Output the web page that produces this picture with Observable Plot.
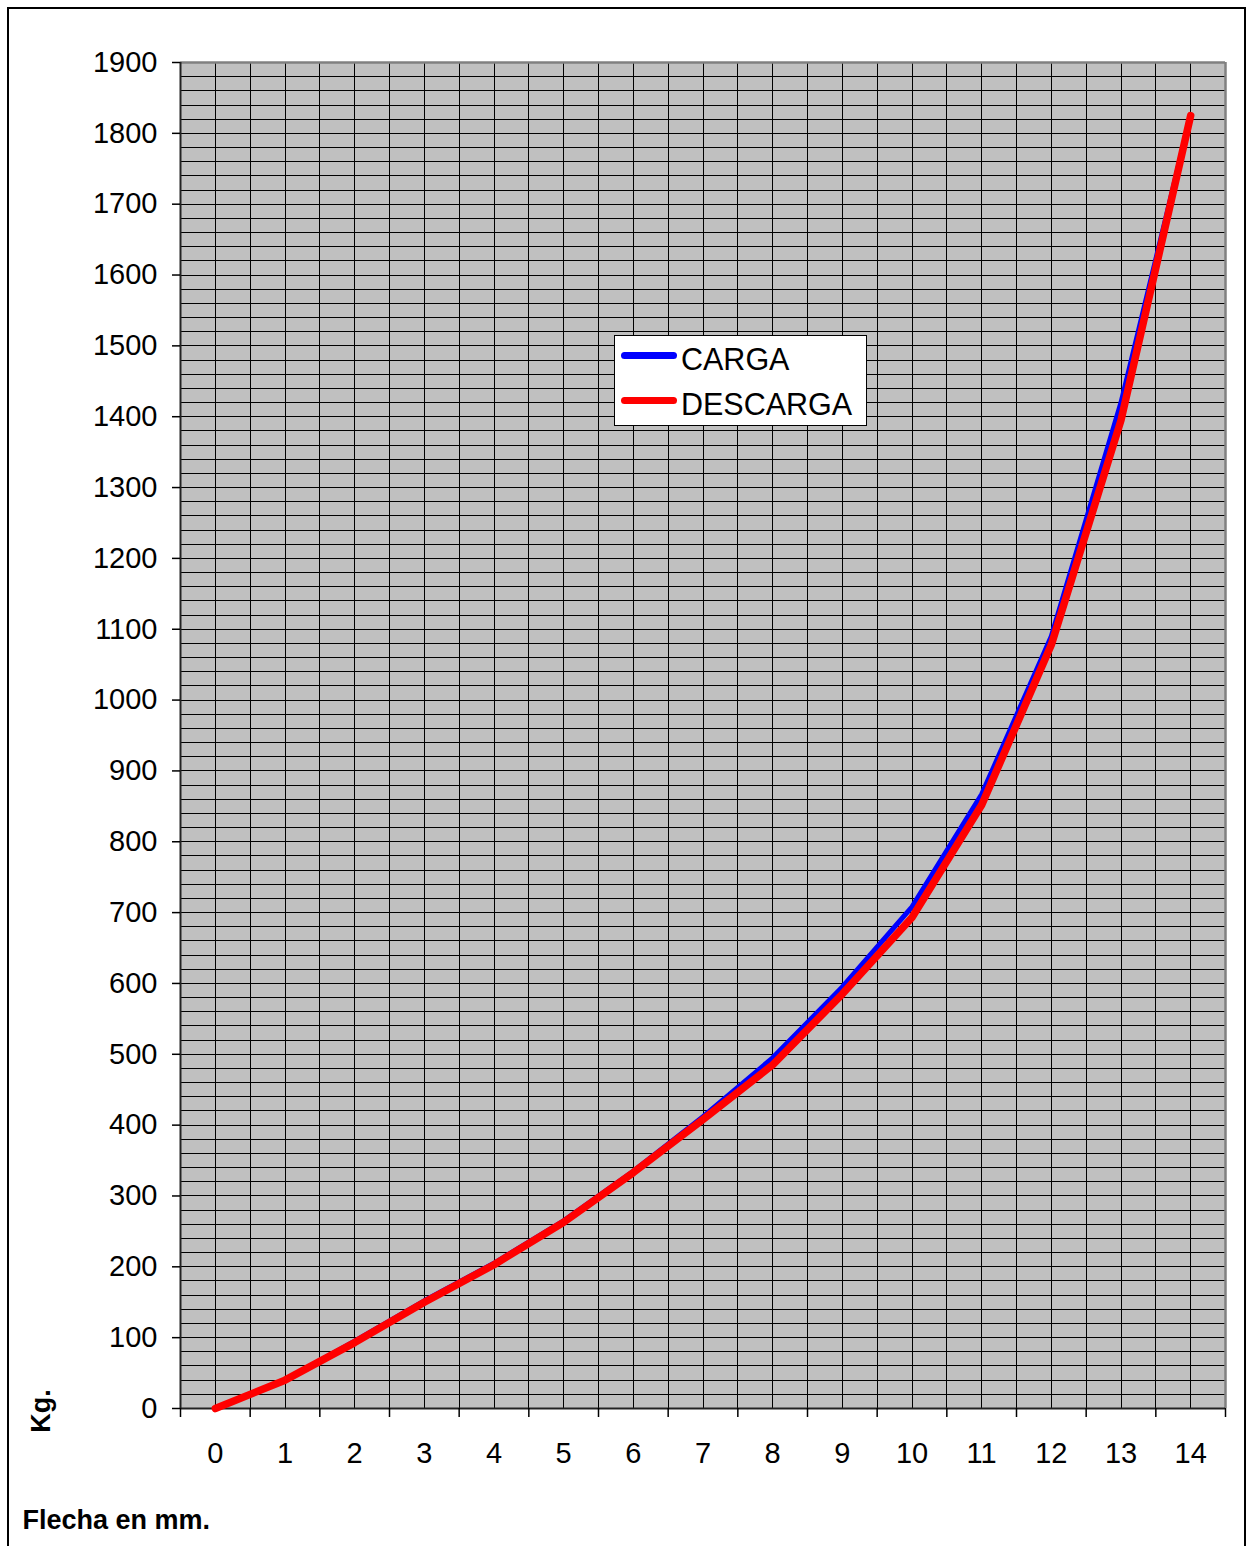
<!DOCTYPE html>
<html>
<head>
<meta charset="utf-8">
<script src="https://cdn.jsdelivr.net/npm/d3@7"></script>
<script src="https://cdn.jsdelivr.net/npm/@observablehq/plot@0.6"></script>
<style>
  html, body { margin: 0; padding: 0; background: #fff; overflow: hidden; }
  #page { position: relative; width: 1248px; height: 1546px; font-family: "Liberation Sans", Arial, sans-serif; }
  #border { position: absolute; left: 7px; top: 7px; width: 1239px; height: 1600px; border: 2px solid #000; box-sizing: border-box; }
  #chart { position: absolute; left: 0; top: 0; }
  #legend { position: absolute; left: 614px; top: 335px; width: 253px; height: 91px; box-sizing: border-box; border: 1px solid #000; background: #fff; }
  .sw { position: absolute; left: 6px; width: 56px; height: 7px; border-radius: 4px; }
  .lt { position: absolute; left: 66px; font-size: 30.5px; line-height: 1; color: #000; white-space: nowrap; }
</style>
</head>
<body>
<div id="page">
  <div id="border"></div>
  <div id="chart"></div>
  <div id="legend"></div>
</div>
<script>
// ---- data ----
const flecha = [0, 1, 2, 3, 4, 5, 6, 7, 8, 9, 10, 11, 12, 13, 14];
const carga = [0, 40, 95, 152, 205, 265, 335, 412, 495, 595, 708, 867, 1090, 1420, 1825];
const descarga = [0, 40, 93, 150, 203, 263, 333, 408, 485, 585, 693, 852, 1078, 1395, 1825];
const yTicks = [0, 100, 200, 300, 400, 500, 600, 700, 800, 900, 1000, 1100, 1200, 1300, 1400, 1500, 1600, 1700, 1800, 1900];
const xTickLabels = ["0", "1", "2", "3", "4", "5", "6", "7", "8", "9", "10", "11", "12", "13", "14"];
const seriesNames = ["CARGA", "DESCARGA"];
const seriesColors = ["#0000ff", "#ff0000"];
const yLabel = "Kg.";
const xLabel = "Flecha en mm.";

// derived tables
const cargaData = flecha.map((f, i) => ({flecha: f, kg: carga[i]}));
const descargaData = flecha.map((f, i) => ({flecha: f, kg: descarga[i]}));
const yGrid = d3.range(0, 1901, 20);
const xEdges = d3.range(0, 16).map(i => i - 0.5);
const xGrid = d3.range(0, 31).map(i => i / 2 - 0.5);

const plot = Plot.plot({
  width: 1248,
  height: 1546,
  marginLeft: 180,
  marginRight: 23,
  marginTop: 62,
  marginBottom: 138,
  style: {fontFamily: "'Liberation Sans', Arial, sans-serif", background: "transparent", color: "#000"},
  x: {type: "linear", domain: [-0.5, 14.5]},
  y: {domain: [0, 1900]},
  marks: [
    Plot.frame({fill: "#c0c0c0", stroke: "none"}),
    Plot.ruleY(yGrid, {stroke: "#000", strokeWidth: 1, shapeRendering: "crispEdges"}),
    Plot.ruleX(xGrid, {stroke: "#000", strokeWidth: 1, shapeRendering: "crispEdges"}),
    Plot.ruleY([1900], {stroke: "#808080", strokeWidth: 2.5}),
    Plot.ruleX([14.5], {stroke: "#808080", strokeWidth: 2.5}),
    Plot.ruleX([-0.5], {stroke: "#222", strokeWidth: 2}),
    Plot.ruleY([0], {stroke: "#222", strokeWidth: 2}),
    Plot.line(cargaData, {x: "flecha", y: "kg", stroke: seriesColors[0], strokeWidth: 5, strokeLinejoin: "round", strokeLinecap: "round"}),
    Plot.line(descargaData, {x: "flecha", y: "kg", stroke: seriesColors[1], strokeWidth: 7.5, strokeLinejoin: "round", strokeLinecap: "round"}),
    Plot.axisY(yTicks, {tickSize: 8, tickPadding: 15, fontSize: 29, label: null, stroke: "#000", strokeWidth: 1.5, tickFormat: d => String(d)}),
    Plot.axisX(xEdges, {tickSize: 9, tickFormat: () => "", label: null, stroke: "#000", strokeWidth: 1.5}),
    Plot.axisX(flecha, {tickSize: 0, tickPadding: 34, fontSize: 29, label: null, tickFormat: (d, i) => xTickLabels[i]}),
    Plot.text([yLabel], {text: d => d, frameAnchor: "bottom-left", rotate: -90, dx: -139, dy: 2.5, fontSize: 27, fontWeight: "bold", textAnchor: "middle", lineAnchor: "middle"}),
    Plot.text([xLabel], {text: d => d, frameAnchor: "bottom-left", dx: -158, dy: 112, fontSize: 27, fontWeight: "bold", textAnchor: "start", lineAnchor: "middle"})
  ]
});
document.getElementById("chart").appendChild(plot);

// legend
const legend = document.getElementById("legend");
const swTops = [16, 61];
const txtTops = [8, 53];
seriesNames.forEach((name, i) => {
  const sw = document.createElement("div");
  sw.className = "sw";
  sw.style.top = swTops[i] + "px";
  sw.style.background = seriesColors[i];
  legend.appendChild(sw);
  const t = document.createElement("div");
  t.className = "lt";
  t.style.top = txtTops[i] + "px";
  t.textContent = name;
  legend.appendChild(t);
});
</script>
</body>
</html>
